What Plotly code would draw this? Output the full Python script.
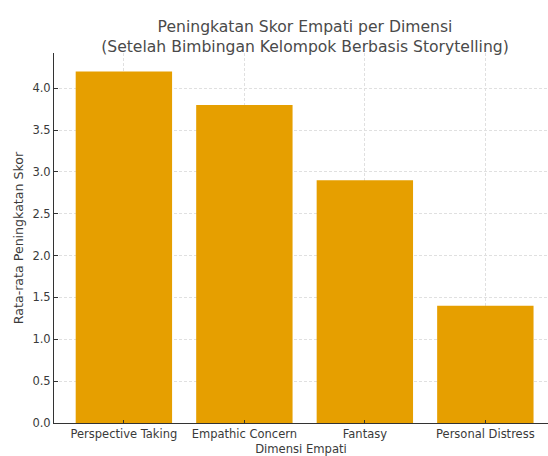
import plotly.graph_objects as go

categories = ["Perspective Taking", "Empathic Concern", "Fantasy", "Personal Distress"]
values = [4.2, 3.8, 2.9, 1.4]
y_ticks = [0.0, 0.5, 1.0, 1.5, 2.0, 2.5, 3.0, 3.5, 4.0]
y_tick_labels = ["0.0", "0.5", "1.0", "1.5", "2.0", "2.5", "3.0", "3.5", "4.0"]

FONT = "DejaVu Sans"
TXT = "#3a3a3a"

fig = go.Figure(go.Bar(
    x=categories, y=values, marker_color="#E69F00", marker_line_width=0, width=0.8,
))

fig.update_layout(
    width=548, height=456,
    margin=dict(l=54, r=0, t=53, b=33),
    paper_bgcolor="white", plot_bgcolor="white",
    font=dict(family=FONT, size=11, color=TXT),
    showlegend=False,
    title=dict(
        text="Peningkatan Skor Empati per Dimensi<br>(Setelah Bimbingan Kelompok Berbasis Storytelling)",
        x=305 / 548, xref="container", xanchor="center",
        y=1 - 32 / 456, yref="container", yanchor="middle",
        font=dict(family=FONT, size=15.6, color="#4a4a4a"),
    ),
)

GRID = dict(showgrid=True, gridcolor="#e0e0e0", griddash="3px,2px", gridwidth=0.8)

fig.update_xaxes(
    range=[-0.58, 3.52],
    showline=True, linecolor="#333333", linewidth=1,
    ticks="inside", ticklen=3.5, tickcolor="#333333",
    tickfont=dict(family=FONT, size=11.5, color=TXT),
    title=dict(text="Dimensi Empati", standoff=5, font=dict(family=FONT, size=11.6, color=TXT)),
    automargin=False,
    **GRID,
)
fig.update_yaxes(
    range=[0, 4.42],
    tickvals=y_ticks, ticktext=y_tick_labels,
    showline=True, linecolor="#333333", linewidth=1,
    ticks="inside", ticklen=3.5, tickcolor="#333333",
    zeroline=False,
    tickfont=dict(family=FONT, size=11.5, color=TXT),
    title=dict(text="Rata-rata Peningkatan Skor", standoff=5, font=dict(family=FONT, size=12.6, color=TXT)),
    automargin=False,
    **GRID,
)

fig.write_html(
    "out.html",
    config={"displayModeBar": False},
    post_script="document.body.style.margin='0';document.body.style.overflow='hidden';",
)
